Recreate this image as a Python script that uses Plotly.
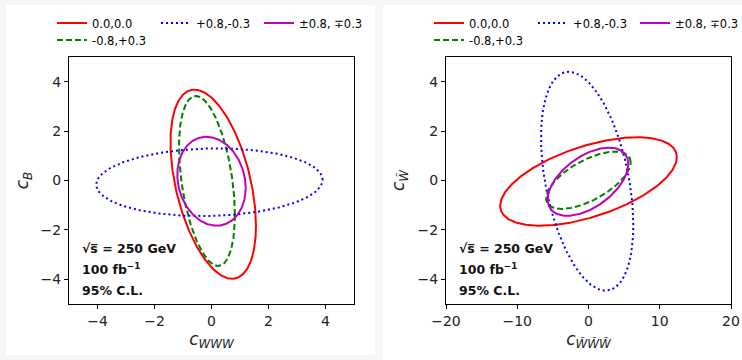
import numpy as np
import plotly.graph_objects as go

# ---- data: 95% C.L. ellipses (centre, half-extent in x, half-extent in y, correlation)
labels = ["0.0,0.0", "-0.8,+0.3", "+0.8,-0.3", "±0.8, ∓0.3"]
colors = ["#ff0000", "#008000", "#0000ff", "#bf00bf"]
dashes = ["solid", "6px,3px", "2px,3px", "solid"]

# left panel: c_WWW vs c_B
left_cx = [0.06, -0.16, -0.07, 0.0]
left_cy = [-0.15, -0.02, -0.07, -0.03]
left_sx = [1.50, 0.98, 3.97, 1.20]
left_sy = [3.83, 3.44, 1.37, 1.80]
left_rho = [-0.44, -0.40, 0.07, -0.15]

# right panel: c_WWW~ vs c_W~
right_cx = [0.0, -0.02, -0.19, -0.07]
right_cy = [-0.04, 0.01, -0.03, -0.05]
right_sx = [12.4, 5.94, 6.48, 5.66]
right_sy = [1.79, 1.16, 4.43, 1.38]
right_rho = [0.55, 0.63, -0.40, 0.52]

x_ticks_left = [-4, -2, 0, 2, 4]
x_ticks_right = [-20, -10, 0, 10, 20]
y_ticks = [-4, -2, 0, 2, 4]

info_lines = ["√s\u0305 = 250 GeV", "100 fb<sup>−1</sup>", "95% C.L."]

W, H = 742, 360


def px(v):
    return v / W


def py(v):
    return 1 - v / H


def ellipse(cx, cy, sx, sy, rho, n=400):
    t = np.linspace(0, 2 * np.pi, n)
    phi = np.arccos(rho)
    return cx + sx * np.cos(t), cy + sy * np.cos(t - phi)


fig = go.Figure()

legend_text_left = [92, 92, 196, 299]
legend_text_right = [469, 469, 573, 675]
legend_rows = [23, 40, 23, 23]

for panel, (cxs, cys, sxs, sys_, rhos) in enumerate([
        (left_cx, left_cy, left_sx, left_sy, left_rho),
        (right_cx, right_cy, right_sx, right_sy, right_rho)]):
    for i in range(4):
        x, y = ellipse(cxs[i], cys[i], sxs[i], sys_[i], rhos[i])
        k = panel * 4 + i
        lg = "legend" if k == 0 else f"legend{k + 1}"
        fig.add_trace(go.Scatter(
            x=x, y=y, mode="lines", name=labels[i],
            line=dict(color=colors[i], width=2, dash=dashes[i]),
            xaxis="x" if panel == 0 else "x2",
            yaxis="y" if panel == 0 else "y2",
            legend=lg, showlegend=True, hoverinfo="skip"))

# legends
leg_layout = {}
for panel, cols in enumerate([legend_text_left, legend_text_right]):
    for i in range(4):
        k = panel * 4 + i
        key = "legend" if k == 0 else f"legend{k + 1}"
        leg_layout[key] = dict(
            x=px(cols[i] - 40), xanchor="left",
            y=py(legend_rows[i]), yanchor="middle",
            bgcolor="rgba(0,0,0,0)", borderwidth=0,
            font=dict(family="DejaVu Sans", size=11.5, color="#000"),
            itemwidth=30, tracegroupgap=0)

axis_common = dict(showgrid=False, zeroline=False, showline=True, linecolor="black",
                   linewidth=1.2, mirror=True, ticks="outside", ticklen=4,
                   tickwidth=1.2, tickcolor="black", automargin=False,
                   tickfont=dict(family="DejaVu Sans", size=14, color="#222"))

ydom = [py(304), py(57)]
title_font = dict(family="DejaVu Sans", size=17, color="#222")

fig.update_layout(
    width=W, height=H,
    margin=dict(l=0, r=0, t=0, b=0, autoexpand=False),
    paper_bgcolor="#f6f6f6",
    plot_bgcolor="white",
    hovermode=False,
    xaxis=dict(domain=[px(69), px(354)], range=[-5, 5], tickvals=x_ticks_left,
               title=dict(text="<i>c<sub>WWW</sub></i>", standoff=1, font=title_font),
               anchor="y", **axis_common),
    yaxis=dict(domain=ydom, range=[-5, 5], tickvals=y_ticks,
               title=dict(text="<i>c<sub>B</sub></i>", standoff=7, font=title_font),
               anchor="x", **axis_common),
    xaxis2=dict(domain=[px(446), px(731)], range=[-20, 20], tickvals=x_ticks_right,
                title=dict(text="<i>c<sub>W\u0303W\u0303W\u0303</sub></i>", standoff=1,
                           font=title_font),
                anchor="y2", **axis_common),
    yaxis2=dict(domain=ydom, range=[-5, 5], tickvals=y_ticks,
                title=dict(text="<i>c<sub>W\u0303</sub></i>", standoff=8, font=title_font),
                anchor="x2", **axis_common),
    **leg_layout,
)

# white figure panels on light grey page
fig.add_shape(type="rect", xref="paper", yref="paper", layer="below",
              x0=px(6), x1=px(375), y0=py(355), y1=py(5),
              fillcolor="white", line=dict(width=0))
fig.add_shape(type="rect", xref="paper", yref="paper", layer="below",
              x0=px(383), x1=1, y0=0, y1=py(5),
              fillcolor="white", line=dict(width=0))

# info text
for xref, yref, x0 in [("x", "y", -4.6), ("x2", "y2", -18.4)]:
    for txt, yv in zip(info_lines, [-2.75, -3.6, -4.45]):
        fig.add_annotation(x=x0, y=yv, xref=xref, yref=yref, text=f"<b>{txt}</b>",
                           showarrow=False, xanchor="left", yanchor="middle",
                           font=dict(family="DejaVu Sans", size=12.5, color="#111"))

fig.write_html(
    "out.html",
    config={"displayModeBar": False},
    post_script="document.body.style.margin='0';document.body.style.overflow='hidden';")
